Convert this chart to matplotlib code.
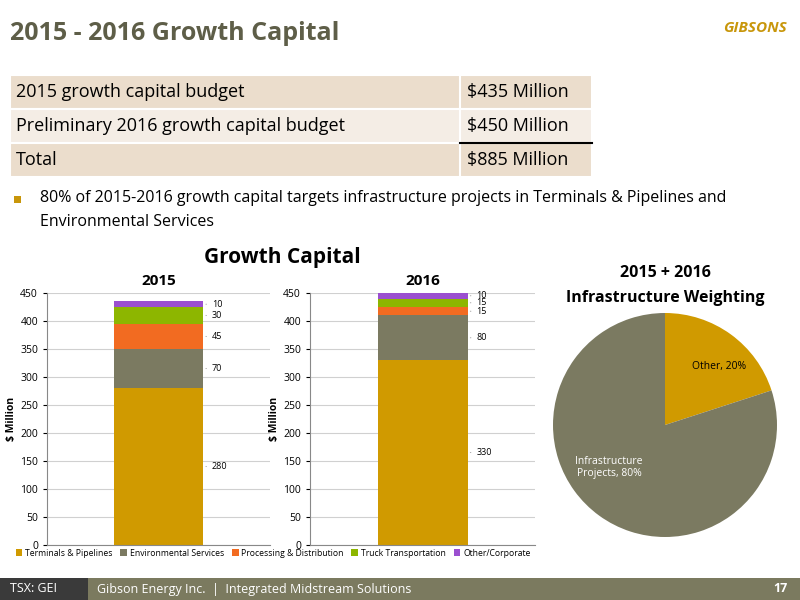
import matplotlib
matplotlib.use("Agg")
import matplotlib.pyplot as plt
from matplotlib.patches import Rectangle

categories = ["Terminals & Pipelines", "Environmental Services", "Processing & Distribution",
              "Truck Transportation", "Other/Corporate"]
values_2015 = [280, 70, 45, 30, 10]
values_2016 = [330, 80, 15, 15, 10]
colors = ["#D09A00", "#7B7A61", "#F26B21", "#8DB600", "#9B4FD0"]
pie_labels = ["Other, 20%", "Infrastructure\nProjects, 80%"]
pie_values = [20, 80]
table_rows = [("2015 growth capital budget", "$435 Million"),
              ("Preliminary 2016 growth capital budget", "$450 Million"),
              ("Total", "$885 Million")]

plt.rcParams['font.family'] = ['Open Sans', 'DejaVu Sans']
fig = plt.figure(figsize=(8, 6), dpi=100)
W, H = 800, 600

def fx(x): return x / W
def fy(y): return 1 - y / H

# title
fig.text(fx(10), fy(40), "2015 - 2016 Growth Capital", fontsize=18, fontweight='bold',
         color="#5E5E48", va='baseline')
fig.text(fx(755), fy(28), "GIBSONS", fontsize=11, fontweight='bold', color="#C8960A",
         ha='center', va='center', style='italic')

# table
row_bg = ["#EBDDCC", "#F4EDE5", "#EBDDCC"]
ys = [75, 109, 143, 177]
for i, (a, b) in enumerate(table_rows):
    fig.add_artist(Rectangle((fx(10), fy(ys[i + 1])), fx(582), (ys[i + 1] - ys[i]) / H,
                             facecolor=row_bg[i], edgecolor='white', lw=1.5, transform=fig.transFigure))
    fig.add_artist(Rectangle((fx(460), fy(ys[i + 1])), 0.0001, (ys[i + 1] - ys[i]) / H,
                             facecolor='white', edgecolor='white', lw=1.5, transform=fig.transFigure))
    yc = fy((ys[i] + ys[i + 1]) / 2)
    fig.text(fx(16), yc, a, fontsize=13, va='center', color='black')
    fig.text(fx(467), yc, b, fontsize=13, va='center', color='black')
fig.add_artist(plt.Line2D([fx(460), fx(592)], [fy(143), fy(143)], color='black', lw=1.5,
                          transform=fig.transFigure))

# bullet
fig.add_artist(Rectangle((fx(14), fy(203)), 7 / W, 7 / H, facecolor="#C8960A",
                         transform=fig.transFigure))
fig.text(fx(40), fy(198), "80% of 2015-2016 growth capital targets infrastructure projects in Terminals & Pipelines and",
         fontsize=11.5, va='center')
fig.text(fx(40), fy(222), "Environmental Services", fontsize=11.5, va='center')

fig.text(fx(282), fy(258), "Growth Capital", fontsize=15, fontweight='bold', ha='center', va='center')

def bar_chart(rect, vals, title):
    ax = fig.add_axes(rect)
    bottom = 0
    for v, c, name in zip(vals, colors, categories):
        ax.bar([0], [v], bottom=bottom, color=c, width=0.4, label=name)
        mid = bottom + v / 2
        ax.annotate(str(v), xy=(0.2, mid), xytext=(0.24, mid), fontsize=6.5,
                    va='center', ha='left', arrowprops=dict(arrowstyle='-', color='#999', lw=0.6))
        bottom += v
    ax.set_xlim(-0.5, 0.5)
    ax.set_ylim(0, 450)
    ax.set_yticks(range(0, 451, 50))
    ax.tick_params(axis='y', labelsize=7.5, length=3)
    ax.set_xticks([])
    ax.yaxis.grid(True, color='#d0d0d0', lw=0.8)
    ax.set_axisbelow(True)
    for s in ['top', 'right']:
        ax.spines[s].set_visible(False)
    ax.spines['left'].set_color('#888')
    ax.spines['bottom'].set_color('#888')
    ax.set_ylabel("$ Million", fontsize=7.5, fontweight='bold', labelpad=2)
    ax.set_title(title, fontsize=11, fontweight='bold', pad=6)
    return ax

ax1 = bar_chart([fx(47), fy(545), fx(223), 252 / H], values_2015, "2015")
ax2 = bar_chart([fx(310), fy(545), fx(225), 252 / H], values_2016, "2016")
handles, labels = ax1.get_legend_handles_labels()
fig.legend(handles, labels, loc='center', bbox_to_anchor=(fx(273), fy(553)), ncol=5,
           fontsize=6.2, frameon=False, handlelength=0.8, handleheight=0.8, columnspacing=0.9,
           handletextpad=0.3)

# pie
fig.text(fx(665), fy(273), "2015 + 2016", fontsize=11.5, fontweight='bold', ha='center', va='center')
fig.text(fx(665), fy(298), "Infrastructure Weighting", fontsize=11.5, fontweight='bold', ha='center', va='center')
axp = fig.add_axes([fx(553), fy(537), fx(224), 224 / H])
axp.pie(pie_values, colors=[colors[0], colors[1]], startangle=90, counterclock=False, radius=1)
axp.set_xlim(-1, 1)
axp.set_ylim(-1, 1)
axp.set_aspect('equal')
axp.text(0.48, 0.52, pie_labels[0], fontsize=7.5, ha='center', va='center')
axp.text(-0.5, -0.38, pie_labels[1], fontsize=7.5, ha='center', va='center', color='white')

# footer
fig.add_artist(Rectangle((0, 0), 1, 22 / H, facecolor="#7B7A5F", transform=fig.transFigure))
fig.add_artist(Rectangle((0, 0), fx(88), 22 / H, facecolor="#3A3A3A", transform=fig.transFigure))
fig.text(fx(10), fy(589), "TSX: GEI", fontsize=9, color='white', va='center')
fig.text(fx(97), fy(589), "Gibson Energy Inc.  |  Integrated Midstream Solutions", fontsize=9,
         color='white', va='center')
fig.text(fx(788), fy(589), "17", fontsize=9, color='white', va='center', ha='right', fontweight='bold')

fig.savefig("out.png", dpi=100)
